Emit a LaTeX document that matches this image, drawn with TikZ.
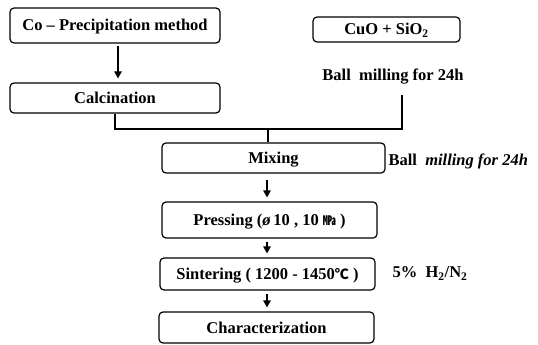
\documentclass[tikz,border=0pt]{standalone}
\usepackage{fontspec}
\setmainfont{Liberation Serif}
\newfontfamily\cjk{Noto Sans CJK SC}
\usetikzlibrary{arrows.meta}
\begin{document}
\begin{tikzpicture}[x=1pt,y=-1pt, line width=1.2pt,
 txt/.style={font=\fontsize{16.5}{18}\selectfont\bfseries, inner sep=0pt, text height=13pt, text depth=2pt},
 box/.style={txt, draw, rounded corners=4pt},
 arr/.style={-{Triangle[length=7pt,width=7.5pt]}, shorten <=2pt, shorten >=4pt}]
\useasboundingbox (0,0) rectangle (538,345);
\node[box, minimum width=210pt, minimum height=35pt] (co) at (115,25.5) {Co -- Precipitation method};
\node[box, minimum width=210pt, minimum height=30pt] (calc) at (115,98) {Calcination};
\node[box, minimum width=147pt, minimum height=25pt] (cuo) at (386.5,29.5) {CuO + SiO\textsubscript{2}};
\node[txt] (bm1) at (393,75) {Ball\ \ milling for 24h};
\node[box, minimum width=223pt, minimum height=30pt] (mix) at (273.5,158) {Mixing};
\node[txt, anchor=west] (bm2) at (388,160) {Ball\ \ \textit{milling for 24h}};
\node[box, minimum width=215pt, minimum height=36pt] (press) at (269.5,220) {Pressing (\textit{ø}\,10 , 10 {\cjk\fontsize{13}{14}\selectfont ㎫} )};
\node[box, minimum width=215pt, minimum height=32pt] (sint) at (267.5,274) {Sintering ( 1200 - 1450{\cjk\fontsize{14}{16}\selectfont ℃} )};
\node[txt, anchor=west] (gas) at (392,272) {5\%\ \ H\textsubscript{2}/N\textsubscript{2}};
\node[box, minimum width=215pt, minimum height=31pt] (char) at (266.5,327.5) {Characterization};
\coordinate (a1) at (118,0);
\coordinate (a2) at (267,0);
\coordinate (j1) at (115,129);
\coordinate (j2) at (402,129);
\coordinate (j3) at (402,95);
\coordinate (j4) at (268,129);
\draw[arr] (co.south -| a1) -- (calc.north -| a1);
\draw (calc.south -| j1) -- (j1) -- (j2) -- (j3);
\draw (j4) -- (mix.north -| j4);
\draw[arr, shorten <=6pt] (mix.south -| a2) -- (press.north -| a2);
\draw[arr, shorten <=3pt] (press.south -| a2) -- (sint.north -| a2);
\draw[arr, shorten <=3pt] (sint.south -| a2) -- (char.north -| a2);
\end{tikzpicture}
\end{document}
